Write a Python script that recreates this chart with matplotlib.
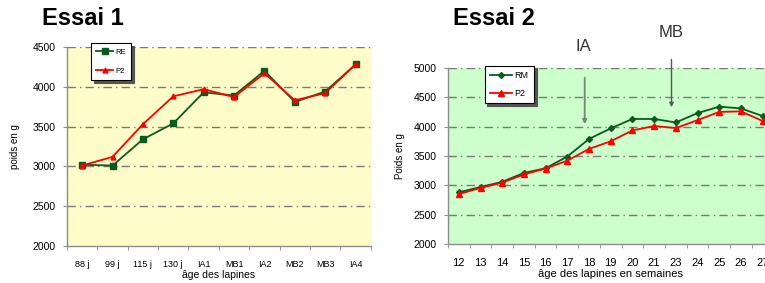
import numpy as np
import matplotlib.pyplot as plt

plt.rcParams['font.family'] = ['Liberation Sans', 'DejaVu Sans']

# Essai 1
cat1 = ['88 j', '99 j', '115 j', '130 j', 'IA1', 'MB1', 'IA2', 'MB2', 'MB3', 'IA4']
re1 = [3020, 3010, 3340, 3540, 3930, 3890, 4200, 3810, 3940, 4280]
p2_1 = [3010, 3120, 3530, 3880, 3970, 3870, 4170, 3830, 3920, 4280]
yticks1 = [2000, 2500, 3000, 3500, 4000, 4500]

# Essai 2
cat2 = ['12', '13', '14', '15', '16', '17', '18', '19', '20', '21', '23', '24', '25', '26', '27']
rm2 = [2880, 2970, 3060, 3210, 3290, 3490, 3790, 3970, 4130, 4130, 4070, 4230, 4340, 4310, 4180]
p2_2 = [2850, 2955, 3045, 3185, 3285, 3420, 3620, 3750, 3935, 4010, 3975, 4110, 4250, 4260, 4095]
yticks2 = [2000, 2500, 3000, 3500, 4000, 4500, 5000]

VERT = '#0b5a1e'
ROUGE = '#ff0000'
GRIS = '#8c8c8c'

fig = plt.figure(figsize=(7.65, 2.83), dpi=100)


def style_axe(ax, cats, yticks, fond, xfs):
    n = len(cats)
    ax.set_facecolor(fond)
    ax.set_xlim(-0.5, n - 0.5)
    ax.set_ylim(yticks[0], yticks[-1])
    ax.set_yticks(yticks)
    ax.set_xticks(np.arange(n))
    ax.set_xticklabels(cats, fontsize=xfs)
    ax.set_xticks(np.arange(n + 1) - 0.5, minor=True)
    ax.tick_params(axis='x', which='major', length=0, pad=10)
    ax.tick_params(axis='x', which='minor', length=3, color=GRIS)
    ax.tick_params(axis='y', labelsize=7.5, length=3, color=GRIS, pad=5)
    for y in yticks[1:]:
        ax.axhline(y, color='#7a7a7a', lw=1.0, ls=(0, (6, 3, 1, 3)), zorder=1)
    for s in ['top', 'right']:
        ax.spines[s].set_visible(False)
    for s in ['left', 'bottom']:
        ax.spines[s].set_color(GRIS)
        ax.spines[s].set_linewidth(1.0)


# --- Essai 1 ---
ax1 = fig.add_axes([0.0876, 0.131, 0.397, 0.703])
style_axe(ax1, cat1, yticks1, '#fefcc8', 6.5)
x1 = np.arange(len(cat1))
ax1.plot(x1, re1, color=VERT, lw=1.3, marker='s', ms=4, label='RE', zorder=3)
ax1.plot(x1, p2_1, color=ROUGE, lw=1.3, marker='^', ms=3.5, label='P2', zorder=4)
ax1.set_xlabel('âge des lapines', fontsize=7.5, labelpad=1)
ax1.set_ylabel('poids en g', fontsize=7, labelpad=9)
fig.text(0.055, 0.935, 'Essai 1', fontsize=17, fontweight='bold', va='center')
leg1 = ax1.legend(loc='upper left', bbox_to_anchor=(87 / 765, 1 - 39 / 283),
                  bbox_transform=fig.transFigure, fontsize=5.5, frameon=True,
                  fancybox=False, edgecolor='black', labelspacing=1.6,
                  handlelength=2.2, borderpad=0.7, handletextpad=0.3,
                  shadow={'ox': 2, 'oy': -2, 'color': '#555555', 'alpha': 1})
leg1.get_frame().set_linewidth(0.8)

# --- Essai 2 ---
ax2 = fig.add_axes([0.5856, 0.138, 0.4255, 0.622])
style_axe(ax2, cat2, yticks2, '#ccffcc', 8)
x2 = np.arange(len(cat2))
ax2.plot(x2, rm2, color=VERT, lw=1.3, marker='D', ms=3, label='RM', zorder=3)
ax2.plot(x2, p2_2, color=ROUGE, lw=1.3, marker='^', ms=5, label='P2', zorder=4)
ax2.set_xlabel('âge des lapines en semaines', fontsize=8, labelpad=1)
ax2.set_ylabel('Poids en g', fontsize=7, labelpad=6)
fig.text(0.592, 0.935, 'Essai 2', fontsize=17, fontweight='bold', va='center')
leg2 = ax2.legend(loc='upper left', bbox_to_anchor=(480 / 765, 1 - 61 / 283),
                  bbox_transform=fig.transFigure, fontsize=6.5, frameon=True,
                  fancybox=False, edgecolor='black', labelspacing=1.0,
                  handlelength=2.4, borderpad=0.6, handletextpad=0.3,
                  shadow={'ox': 2, 'oy': -2, 'color': '#555555', 'alpha': 1})
leg2.get_frame().set_linewidth(0.8)

# fleches IA et MB
ax2.annotate('', xy=(5.8, 3994), xytext=(5.8, 4880), annotation_clip=False,
             arrowprops=dict(arrowstyle='-|>', color='#6f8a6f', lw=1.3, mutation_scale=6))
ax2.text(5.75, 5360, 'IA', fontsize=12, ha='center', va='center', color='#333333', clip_on=False)
ax2.annotate('', xy=(9.8, 4284), xytext=(9.8, 5190), annotation_clip=False,
             arrowprops=dict(arrowstyle='-|>', color='#555555', lw=1.0, mutation_scale=6))
ax2.text(9.8, 5600, 'MB', fontsize=12, ha='center', va='center', color='#333333', clip_on=False)

fig.savefig('out.png', dpi=100)
